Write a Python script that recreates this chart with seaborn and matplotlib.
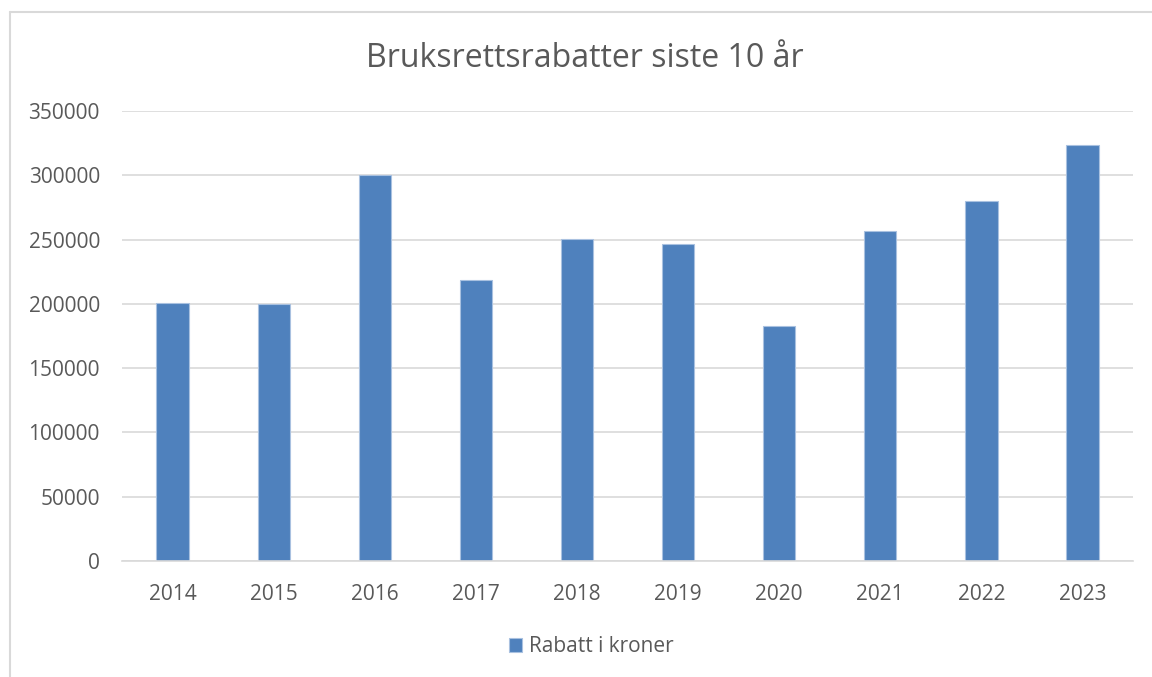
import matplotlib
matplotlib.use('Agg')
import matplotlib.pyplot as plt
import seaborn as sns
import pandas as pd
from matplotlib.lines import Line2D

years = ['2014', '2015', '2016', '2017', '2018', '2019', '2020', '2021', '2022', '2023']
rabatt = [200500, 199800, 300000, 218600, 250800, 246700, 182900, 257000, 279700, 323800]
y_ticks = [0, 50000, 100000, 150000, 200000, 250000, 300000, 350000]

df = pd.DataFrame({'year': years, 'rabatt': rabatt})

sns.set_style('white')
plt.rcParams['font.family'] = ['Open Sans', 'DejaVu Sans']
text_color = '#595959'

fig = plt.figure(figsize=(11.52, 6.77), dpi=100)
ax = fig.add_axes([0.106, 0.1713, 0.8775, 0.6647])

sns.barplot(data=df, x='year', y='rabatt', color='#4F81BD', width=0.32,
            saturation=1, edgecolor='#A9C1E0', linewidth=0.8,
            label='Rabatt i kroner', ax=ax)

ax.set_ylim(0, 350000)
ax.set_yticks(y_ticks)
ax.set_yticklabels([str(v) for v in y_ticks])
ax.yaxis.grid(True, color='#D9D9D9', linewidth=1.2)
ax.set_axisbelow(True)
for s in ['top', 'right', 'left']:
    ax.spines[s].set_visible(False)
ax.spines['bottom'].set_color('#D9D9D9')
ax.spines['bottom'].set_linewidth(1.2)
ax.tick_params(axis='both', length=0, labelsize=15, labelcolor=text_color)
ax.tick_params(axis='x', pad=16.5)
ax.tick_params(axis='y', pad=16)
ax.set_xlabel('')
ax.set_ylabel('')

fig.text(0.508, 1 - 67 / 677, 'Bruksrettsrabatter siste 10 år', ha='center', va='baseline',
         fontsize=23, color=text_color)

ax.legend(loc='center', bbox_to_anchor=(0.464, -0.19), frameon=False,
          fontsize=15, labelcolor=text_color, handlelength=0.65, handleheight=0.65,
          handletextpad=0.3)

# chart border (left and top edges visible)
border = dict(color='#D9D9D9', linewidth=1.5, transform=fig.transFigure)
fig.add_artist(Line2D([9.5 / 1152, 9.5 / 1152], [0, 1 - 12 / 677], **border))
fig.add_artist(Line2D([9.5 / 1152, 1], [1 - 12 / 677, 1 - 12 / 677], **border))

fig.savefig('out.png', dpi=100)
